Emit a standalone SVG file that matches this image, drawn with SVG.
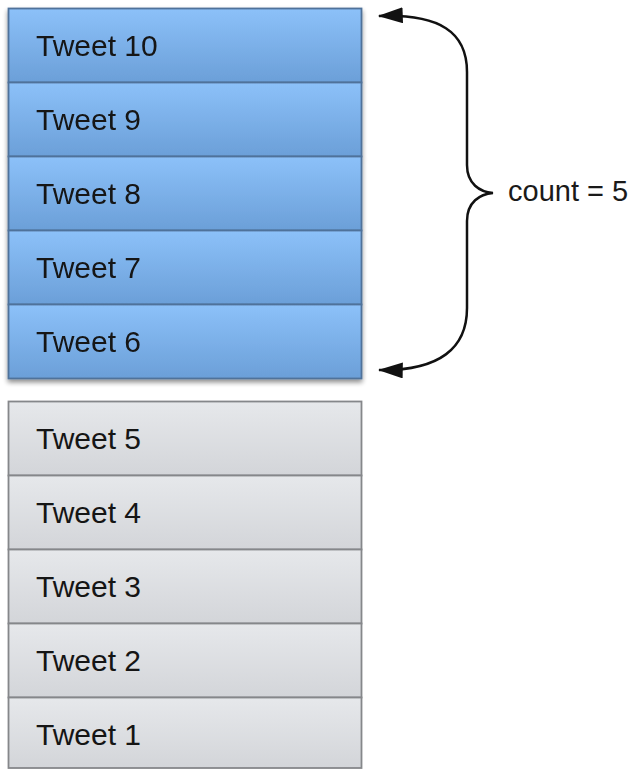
<svg xmlns="http://www.w3.org/2000/svg" width="633" height="769" viewBox="0 0 633 769">
<defs>
<linearGradient id="gBlue" x1="0" y1="0" x2="0" y2="1">
<stop offset="0" stop-color="#8cc1f9"/>
<stop offset="1" stop-color="#6b9fd8"/>
</linearGradient>
<linearGradient id="gGray" x1="0" y1="0" x2="0" y2="1">
<stop offset="0" stop-color="#e6e8eb"/>
<stop offset="1" stop-color="#d3d5d9"/>
</linearGradient>
<filter id="shadow" x="-10%" y="-10%" width="120%" height="130%">
<feGaussianBlur in="SourceAlpha" stdDeviation="2.5"/>
<feOffset dx="0" dy="3" result="b"/>
<feComponentTransfer><feFuncA type="linear" slope="0.45"/></feComponentTransfer>
<feMerge><feMergeNode/><feMergeNode in="SourceGraphic"/></feMerge>
</filter>
<marker id="arrow" viewBox="0 0 10 6.4" refX="9.5" refY="3.2" markerWidth="10" markerHeight="6.4" markerUnits="strokeWidth" orient="auto-start-reverse">
<path d="M0,0 L10,3.2 L0,6.4 z" fill="#111"/>
</marker>
</defs>
<style>
.blue{fill:url(#gBlue);stroke:#50729a;stroke-width:1.8}
.gray{fill:url(#gGray);stroke:#85878a;stroke-width:1.8}
.lbl{font-family:"Liberation Sans",Arial,sans-serif;font-size:30px;fill:#151515}
.note{font-family:"Liberation Sans",Arial,sans-serif;font-size:29px;fill:#1a1a1a}
.brace{fill:none;stroke:#111;stroke-width:2.5}
</style>
<g id="blue-stack" filter="url(#shadow)">
<g id="tweet10"><rect class="blue" x="8.5" y="8.5" width="353" height="74"/><text class="lbl" x="36" y="56">Tweet 10</text></g>
<g id="tweet9"><rect class="blue" x="8.5" y="82.5" width="353" height="74"/><text class="lbl" x="36" y="130">Tweet 9</text></g>
<g id="tweet8"><rect class="blue" x="8.5" y="156.5" width="353" height="74"/><text class="lbl" x="36" y="204">Tweet 8</text></g>
<g id="tweet7"><rect class="blue" x="8.5" y="230.5" width="353" height="74"/><text class="lbl" x="36" y="278">Tweet 7</text></g>
<g id="tweet6"><rect class="blue" x="8.5" y="304.5" width="353" height="74"/><text class="lbl" x="36" y="352">Tweet 6</text></g>
</g>
<g id="gray-stack">
<g id="tweet5"><rect class="gray" x="8.5" y="401.5" width="353" height="74"/><text class="lbl" x="36" y="449">Tweet 5</text></g>
<g id="tweet4"><rect class="gray" x="8.5" y="475.5" width="353" height="74"/><text class="lbl" x="36" y="523">Tweet 4</text></g>
<g id="tweet3"><rect class="gray" x="8.5" y="549.5" width="353" height="74"/><text class="lbl" x="36" y="597">Tweet 3</text></g>
<g id="tweet2"><rect class="gray" x="8.5" y="623.5" width="353" height="74"/><text class="lbl" x="36" y="671">Tweet 2</text></g>
<g id="tweet1"><rect class="gray" x="8.5" y="697.5" width="353" height="70.5"/><text class="lbl" x="36" y="745">Tweet 1</text></g>
</g>
<g id="connectors">
<path class="brace" marker-start="url(#arrow)" marker-end="url(#arrow)" d="M 379,16 C 440,14 467,32 467,72 L 467,165 C 467,184 480,192 493,193 C 480,194 467,202 467,221 L 467,308 C 467,348 440,371 379,370"/>
</g>
<g id="label-count"><text class="note" x="508" y="201">count = 5</text></g>
</svg>
